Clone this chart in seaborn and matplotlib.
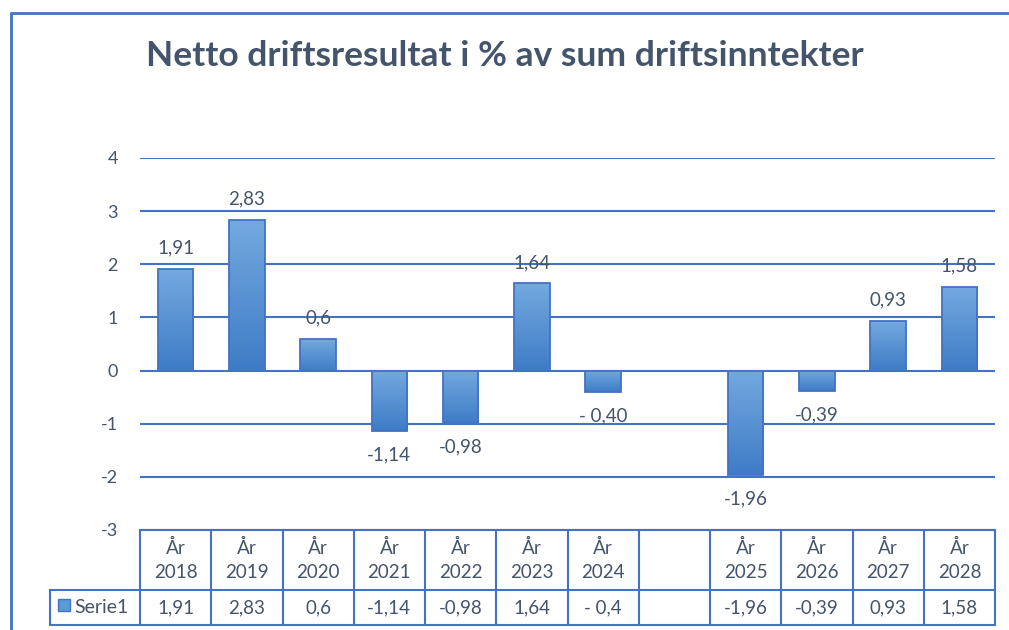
import numpy as np
import pandas as pd
import seaborn as sns
import matplotlib.pyplot as plt
from matplotlib.lines import Line2D
from matplotlib.patches import Rectangle
from matplotlib.colors import LinearSegmentedColormap

# data
categories = ['År 2018', 'År 2019', 'År 2020', 'År 2021', 'År 2022', 'År 2023', 'År 2024',
              ' ', 'År 2025', 'År 2026', 'År 2027', 'År 2028']
values = [1.91, 2.83, 0.6, -1.14, -0.98, 1.64, -0.40, None, -1.96, -0.39, 0.93, 1.58]
bar_labels = ['1,91', '2,83', '0,6', '-1,14', '-0,98', '1,64', '- 0,40', '', '-1,96', '-0,39', '0,93', '1,58']
table_values = ['1,91', '2,83', '0,6', '-1,14', '-0,98', '1,64', '- 0,4', '', '-1,96', '-0,39', '0,93', '1,58']
series_name = 'Serie1'
title = 'Netto driftsresultat i % av sum driftsinntekter'

blue = '#4472C4'
txt = '#44546A'

sns.set_theme(style='white')
plt.rcParams['font.family'] = ['Lato', 'DejaVu Sans']

df = pd.DataFrame({'kat': categories, 'verdi': values}).dropna()

fig = plt.figure(figsize=(10.09, 6.30), dpi=100)
ax = fig.add_axes([140 / 1009, 1 - 530 / 630, 855 / 1009, 372 / 630])

sns.barplot(data=df, x='kat', y='verdi', order=categories, color='#5B9BD5',
            width=0.5, ax=ax, zorder=2)

ax.set_xlim(-0.5, len(categories) - 0.5)
ax.set_ylim(-3, 4)
ax.set_yticks(range(-3, 5))
ax.set_yticklabels([str(v) for v in range(-3, 5)])
ax.yaxis.grid(True, color=blue, lw=1.5)
ax.set_axisbelow(True)
for s in ax.spines.values():
    s.set_visible(False)
ax.tick_params(axis='y', length=0, pad=16, labelsize=13, labelcolor=txt)
ax.set_xticks([])
ax.set_xlabel('')
ax.set_ylabel('')

# gradient fill på søylene
cmap = LinearSegmentedColormap.from_list('grad', ['#3E7CC6', '#74A9DF'])
grad = np.linspace(0, 1, 100).reshape(-1, 1)
for p in list(ax.patches):
    h = p.get_height()
    if not np.isfinite(h):
        continue
    x0 = p.get_x()
    w = p.get_width()
    y0, y1 = sorted([p.get_y(), p.get_y() + h])
    p.set_facecolor('none')
    p.set_edgecolor(blue)
    p.set_linewidth(1.3)
    p.set_zorder(3)
    im = ax.imshow(grad, extent=[x0, x0 + w, y0, y1], origin='lower', cmap=cmap,
                   aspect='auto', zorder=2.5)
    im.set_clip_path(p)
ax.set_xlim(-0.5, len(categories) - 0.5)
ax.set_ylim(-3, 4)

# dataetiketter
for i, (v, lab) in enumerate(zip(values, bar_labels)):
    if v is None:
        continue
    if v >= 0:
        ax.annotate(lab, (i, v), xytext=(0, 9), textcoords='offset points',
                    ha='center', va='bottom', fontsize=13.5, color=txt)
    else:
        ax.annotate(lab, (i, v), xytext=(0, -11), textcoords='offset points',
                    ha='center', va='top', fontsize=13.5, color=txt)

# datatabell under diagrammet
tr = ax.get_xaxis_transform()
h1 = -60 / 372
h2 = -95 / 372
n = len(categories)
for yy in [0, h1, h2]:
    ax.add_line(Line2D([-0.5, n - 0.5], [yy, yy], transform=tr, color=blue, lw=1.5, clip_on=False))
for i in range(n + 1):
    ax.add_line(Line2D([i - 0.5, i - 0.5], [0, h2], transform=tr, color=blue, lw=1.5, clip_on=False))
for i, c in enumerate(categories):
    ax.text(i, h1 / 2, c.replace(' ', '\n') if c.strip() else '', transform=tr,
            ha='center', va='center', fontsize=13.5, color=txt, linespacing=1.45, clip_on=False)
    ax.text(i, (h1 + h2) / 2, table_values[i], transform=tr,
            ha='center', va='center', fontsize=13.5, color=txt, clip_on=False)

# legend-celle
lx = -90 / 855
for yy in [h1, h2]:
    ax.add_line(Line2D([lx, 0], [yy, yy], transform=ax.transAxes, color=blue, lw=1.5, clip_on=False))
ax.add_line(Line2D([lx, lx], [h1, h2], transform=ax.transAxes, color=blue, lw=1.5, clip_on=False))
ax.add_patch(Rectangle(((58 - 140) / 855, -(611 - 530) / 372), 12 / 855, 12 / 372,
                       transform=ax.transAxes, facecolor='#5B9BD5', edgecolor=blue,
                       lw=1, clip_on=False))
ax.text((74 - 140) / 855, (h1 + h2) / 2, series_name, transform=ax.transAxes,
        ha='left', va='center', fontsize=14, color=txt, clip_on=False)

# tittel og ramme
fig.text(0.5, 1 - 56 / 630, title, ha='center', va='center', fontsize=25.5,
         fontweight='bold', color=txt)
fig.add_artist(Line2D([10.5 / 1009, 10.5 / 1009], [0, 1 - 13 / 630], transform=fig.transFigure,
                      color=blue, lw=2))
fig.add_artist(Line2D([10.5 / 1009, 1], [1 - 13 / 630, 1 - 13 / 630], transform=fig.transFigure,
                      color=blue, lw=2))

fig.savefig('out.png', dpi=100)
